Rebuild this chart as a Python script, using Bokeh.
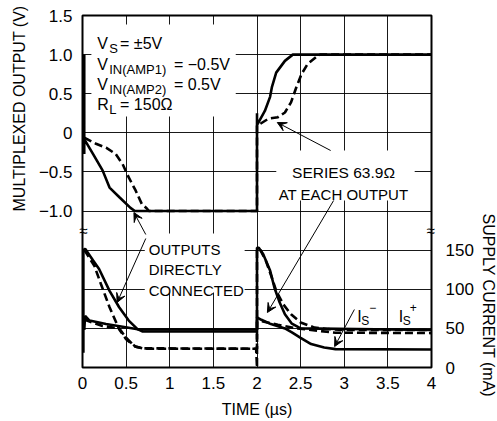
import math
from bokeh.plotting import figure
from bokeh.models import (Range1d, LinearAxis, FixedTicker, Label, Arrow,
                          VeeHead, BoxAnnotation, Title)
from bokeh.embed import file_html
from bokeh.resources import INLINE

# ---------------- data ----------------
x_ticks = [0, 0.5, 1, 1.5, 2, 2.5, 3, 3.5, 4]
x_tick_labels = ["0", "0.5", "1", "1.5", "2", "2.5", "3", "3.5", "4"]
v_ticks = [-1.0, -0.5, 0, 0.5, 1.0, 1.5]
v_tick_labels = ["\u22121.0", "\u22120.5", "0", "0.5", "1.0", "1.5"]
i_ticks = [0, 50, 100, 150]
i_tick_labels = ["0", "50", "100", "150"]

# multiplexed output (V), outputs directly connected (solid)
t_v_direct = [0.02, 0.02, 0.02, 0.12, 0.23, 0.31, 0.42, 0.55, 0.60, 2.0,
              2.0, 2.0, 2.03, 2.09, 2.15, 2.17, 2.22, 2.32, 2.41, 4.0]
v_direct = [1.0, -0.27, -0.08, -0.27, -0.48, -0.70, -0.82, -0.96, -1.0, -1.0,
            0.25, 0.10, 0.16, 0.28, 0.46, 0.58, 0.77, 0.92, 1.0, 1.0]
# multiplexed output (V), series 63.9 ohm (dashed)
t_v_series = [0.02, 0.155, 0.27, 0.38, 0.46, 0.53, 0.61, 0.68, 0.74, 0.76, 2.0,
              2.0, 2.03, 2.13, 2.24, 2.32, 2.39, 2.45, 2.51, 2.58, 2.70, 2.73, 4.0]
v_series = [-0.06, -0.14, -0.19, -0.27, -0.40, -0.57, -0.74, -0.91, -0.97, -1.0, -1.0,
            0.10, 0.11, 0.18, 0.20, 0.26, 0.39, 0.58, 0.75, 0.88, 0.99, 1.0, 1.0]

# supply current (mA), outputs directly connected (solid)
t_is_direct_1 = [0.01, 0.01, 0.03, 0.12, 0.19, 0.31, 0.42, 0.53, 0.63, 0.69, 2.0,
                 2.0, 2.02, 2.07, 2.15, 2.20, 2.26, 2.32, 2.40, 2.50, 4.0]
is_direct_1 = [19, 150, 152, 137, 126, 98, 77, 60, 49, 46, 46,
               153, 153, 145, 124, 102, 83, 68, 56, 50, 48]
t_is_direct_2 = [0.02, 0.03, 0.08, 0.27, 0.46, 0.65, 2.0,
                 2.0, 2.05, 2.16, 2.32, 2.40, 2.50, 2.62, 2.77, 2.90, 4.0]
is_direct_2 = [48, 66, 60, 55.5, 52, 48.5, 48.5,
               64, 61, 55.5, 50, 45, 38, 30, 25.6, 23.5, 23]
# supply current (mA), series 63.9 ohm (dashed)
t_is_series_1 = [0.02, 0.04, 0.136, 0.21, 0.31, 0.42, 0.50, 0.61, 0.70, 1.99,
                 2.0, 2.0, 2.03, 2.10, 2.17, 2.22, 2.30, 2.39, 2.50, 2.66, 2.81, 3.0, 4.0]
is_series_1 = [150, 147, 130, 107, 77, 49, 36, 26.5, 24.5, 24,
               0, 150, 152, 137, 115, 98, 81, 68, 57.6, 51, 49, 48, 48]
t_is_series_2 = [0.02, 0.05, 0.23, 0.42, 0.50, 0.60, 0.70, 2.0,
                 2.0, 2.02, 2.24, 2.43, 2.69, 2.90, 4.0]
is_series_2 = [62, 60, 53, 50, 38, 27, 24, 24,
               60, 60, 54.7, 50.4, 47, 44.5, 44]

# ---------------- layout ----------------
FONT = "Liberation Sans"
W, H = 497, 421
ML, MR, MT, MB = 79, 65, 15, 54
FL, FR, FT, FB = ML, W - MR, MT, H - MB
X0, X1, Y0, Y1 = 0.0, 4.0, -3.0, 1.5
BREAK = -1.25          # position of the axis-break marks (voltage units)


def px2x(px):
    return X0 + (px - FL) * (X1 - X0) / (FR - FL)


def py2y(py):
    return Y1 - (py - FT) * (Y1 - Y0) / (FB - FT)


p = figure(width=W, height=H, x_range=Range1d(X0, X1), y_range=Range1d(Y0, Y1),
           output_backend="svg", toolbar_location=None,
           min_border_left=ML, min_border_right=MR, min_border_top=MT,
           min_border_bottom=MB)
p.extra_y_ranges = {"cur": Range1d(0, 450)}
p.background_fill_color = "white"
p.border_fill_color = "white"
p.outline_line_color = "black"
p.outline_line_width = 2

# grid
p.xgrid.ticker = FixedTicker(ticks=[X0 + 0.5 * k for k in range(9)])
p.ygrid.ticker = FixedTicker(ticks=[Y0 + 0.5 * k for k in range(10)])
for g in (p.xgrid, p.ygrid):
    g.grid_line_color = "black"
    g.grid_line_width = 1
    g.grid_line_alpha = 0.9

# axes
main_l = p.yaxis[0]
main_l.ticker = FixedTicker(ticks=v_ticks)
main_l.major_label_overrides = dict(zip(v_ticks, v_tick_labels))
main_l.major_label_standoff = 4

cur_r = LinearAxis(y_range_name="cur", ticker=FixedTicker(ticks=i_ticks))
cur_r.major_label_overrides = dict(zip(i_ticks, i_tick_labels))
cur_r.major_label_standoff = 8

brk_l = LinearAxis(ticker=FixedTicker(ticks=[BREAK]),
                   major_label_overrides={BREAK: "\u2248"}, major_label_standoff=-5)
brk_r = LinearAxis(ticker=FixedTicker(ticks=[BREAK]),
                   major_label_overrides={BREAK: "\u2248"}, major_label_standoff=-5)
p.left = [brk_l, main_l]
p.right = [brk_r, cur_r]

p.xaxis.ticker = FixedTicker(ticks=x_ticks)
p.xaxis.major_label_overrides = dict(zip(x_ticks, x_tick_labels))
p.xaxis.axis_label = "TIME (\u00b5s)"
p.xaxis.major_label_standoff = 9
p.xaxis.axis_label_standoff = 9

for ax in (p.xaxis[0], main_l, cur_r, brk_l, brk_r):
    ax.axis_line_color = None
    ax.major_tick_line_color = None
    ax.minor_tick_line_color = None
    ax.major_tick_out = 0
    ax.major_tick_in = 0
    ax.major_label_text_font = FONT
    ax.major_label_text_font_size = "17px"
    ax.major_label_text_color = "black"
    ax.axis_label_text_font = FONT
    ax.axis_label_text_font_size = "16px"
    ax.axis_label_text_font_style = "normal"
    ax.axis_label_text_color = "black"
for ax in (brk_l, brk_r):
    ax.major_label_text_font_size = "15px"

# axis titles, each placed along its own half of the frame
p.add_layout(Title(text="MULTIPLEXED OUTPUT (V)", align="left", offset=156,
                   vertical_align="bottom", standoff=16, text_font=FONT,
                   text_font_size="16px", text_font_style="normal",
                   text_color="black"), "left")
p.add_layout(Title(text="SUPPLY CURRENT (mA)", align="left", offset=198,
                   vertical_align="top", standoff=2, text_font=FONT,
                   text_font_size="16px", text_font_style="normal",
                   text_color="black"), "right")

# curves
LW = 2.6
DASH = "8 4"
p.line(t_v_direct, v_direct, line_color="black", line_width=LW)
p.line(t_v_series, v_series, line_color="black", line_width=LW, line_dash=DASH)
p.line(t_is_series_1, is_series_1, y_range_name="cur", line_color="black",
       line_width=LW, line_dash=DASH)
p.line(t_is_series_2, is_series_2, y_range_name="cur", line_color="black",
       line_width=LW, line_dash=DASH)
p.line(t_is_direct_1, is_direct_1, y_range_name="cur", line_color="black", line_width=LW)
p.line(t_is_direct_2, is_direct_2, y_range_name="cur", line_color="black", line_width=LW)

# white boxes behind annotation text
for (l, r, t, b) in [(88, 234, 24, 116), (275, 415, 150, 200), (142, 243, 233, 292)]:
    p.add_layout(BoxAnnotation(left=px2x(l), right=px2x(r), top=py2y(t), bottom=py2y(b),
                               fill_color="white", fill_alpha=1.0, line_color=None,
                               level="annotation"))


def lab(text, px, py, size, align="left", baseline="alphabetic", angle=0.0):
    p.add_layout(Label(x=px2x(px), y=py2y(py), text=text, text_font=FONT,
                       text_font_size=f"{size}px", text_align=align,
                       text_baseline=baseline, angle=angle, text_color="black"))


def arrow(x0, y0, x1, y1):
    p.add_layout(Arrow(x_start=px2x(x0), y_start=py2y(y0), x_end=px2x(x1), y_end=py2y(y1),
                       line_color="black", line_width=1,
                       end=VeeHead(size=9, fill_color="black", line_color="black",
                                   line_width=1)))


# arrows
arrow(143, 234, 131, 212)
arrow(143, 238, 114, 302)
arrow(330, 150, 276, 122)
arrow(333, 200, 266, 312)
arrow(354, 309, 334, 346)

# conditions block
MAIN, SUB = 16, 13
lab("V", 94, 43, MAIN); lab("S", 106, 48, SUB); lab("= \u00b15V", 117, 43, MAIN)
lab("V", 94, 63.5, MAIN); lab("IN(AMP1)", 106, 68.5, SUB); lab("= \u22120.5V", 171.5, 63.5, MAIN)
lab("V", 94, 84, MAIN); lab("IN(AMP2)", 106, 89, SUB); lab("= 0.5V", 171.5, 84, MAIN)
lab("R", 94, 104, MAIN); lab("L", 106, 108.5, SUB); lab("= 150\u03a9", 117, 104, MAIN)

# callouts
ANN = 15
lab("SERIES 63.9\u03a9", 343, 172, 15.5, "center")
lab("AT EACH OUTPUT", 343, 193.5, ANN, "center")
lab("OUTPUTS", 146, 248.5, ANN)
lab("DIRECTLY", 146, 269, ANN)
lab("CONNECTED", 146, 289.5, ANN)
lab("I", 357, 316, 16); lab("S", 361, 320, 12); lab("\u2212", 369, 307, 12)
lab("I", 399, 316, 16); lab("S", 403, 320, 12); lab("+", 410, 307, 12)

open("out.html", "w").write(file_html(p, INLINE))
